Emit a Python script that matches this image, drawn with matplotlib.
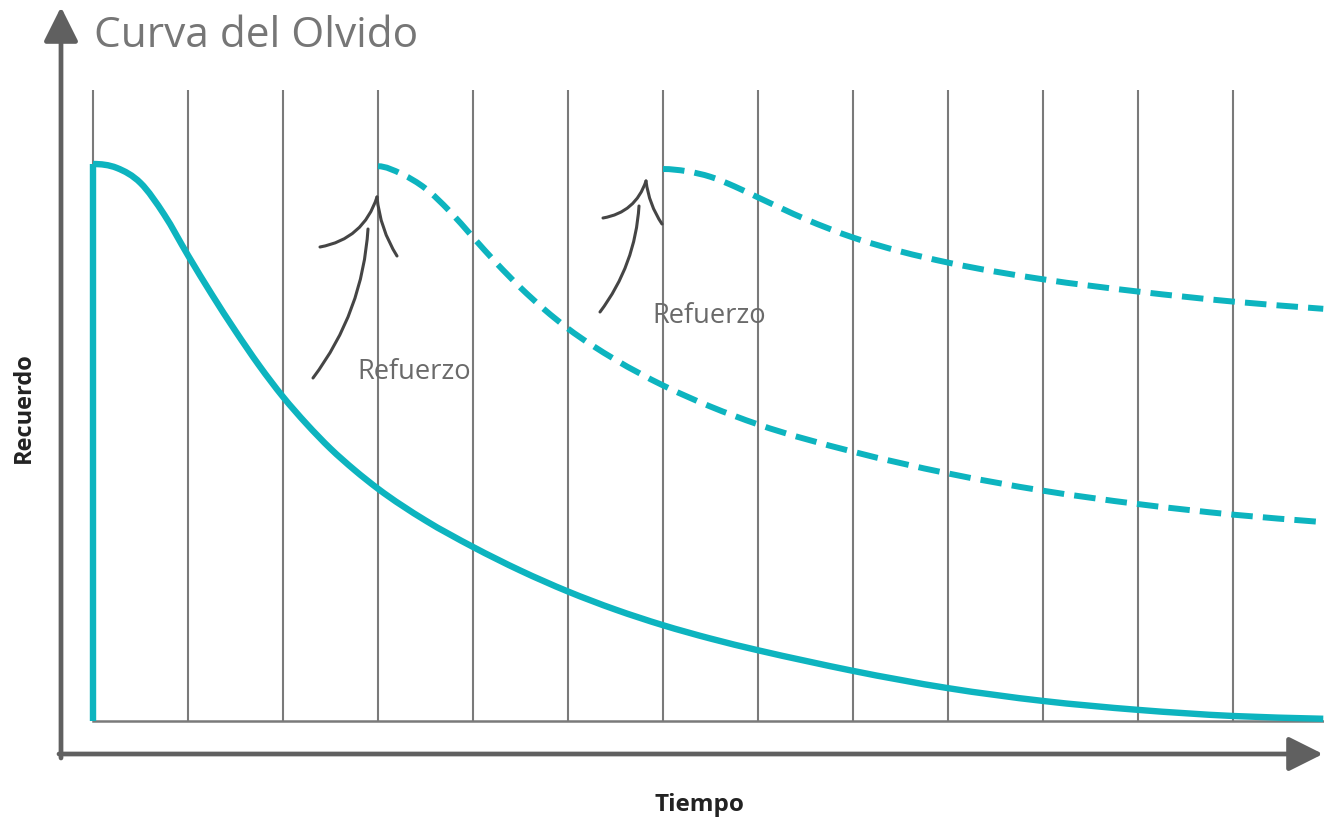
import matplotlib
matplotlib.use("Agg")
import matplotlib.pyplot as plt
from matplotlib.path import Path
from matplotlib.patches import PathPatch

# ---------------- data ----------------
title = "Curva del Olvido"
x_label = "Tiempo"
y_label = "Recuerdo"
boost_label = "Refuerzo"

grid_times = list(range(13))

time_forget = [0, 0, 0.25, 0.5, 0.75, 1, 1.25, 1.5, 1.75, 2, 2.25, 2.5, 2.75, 3, 3.5,
               4, 4.5, 5, 5.5, 6, 6.5, 7, 7.5, 8, 9, 10, 11, 12, 12.95]
recall_forget = [0, 100, 99.3, 96.6, 90.9, 83.6, 76.6, 70.0, 63.8, 58.2, 53.3, 48.9,
                 45.1, 41.7, 36.0, 31.25, 27.0, 23.25, 20.0, 17.2, 14.8, 12.7, 10.8,
                 9.0, 5.9, 3.6, 2.0, 0.9, 0.4]

time_review1 = [3, 3.25, 3.5, 3.75, 4, 4.25, 4.5, 4.75, 5, 5.5, 6, 6.5, 7, 8, 9,
                10, 11, 12, 12.95]
recall_review1 = [99.6, 98.2, 95.6, 91.6, 86.85, 82.15, 77.8, 73.9, 70.45, 64.85,
                  60.25, 56.45, 53.25, 48.35, 44.45, 41.35, 38.95, 37.05, 35.7]

time_review2 = [6, 6.25, 6.5, 6.75, 7, 7.5, 8, 8.5, 9, 10, 11, 12, 12.95]
recall_review2 = [99.1, 98.7, 97.7, 96.0, 94.0, 90.1, 86.8, 84.3, 82.3, 79.3, 77.1,
                  75.3, 74.0]

# ---------------- layout / style ----------------
W, H = 1324, 820
TEAL = "#0DB4BF"
GRID = "#7a7a7a"
AXIS = "#606060"
TXT = "#767676"

fig = plt.figure(figsize=(W / 100, H / 100), dpi=100)
ax = fig.add_axes([0, 0, 1, 1])
ax.set_axis_off()

# map: x_px = 93 + 95*t ; y_px = 722 - 5.57*R
ax.set_xlim((0 - 93) / 95, (W - 93) / 95)
ax.set_ylim((722 - H) / 5.57, 722 / 5.57)


def smooth_path(xs, ys):
    """Cubic Hermite (Bezier) path passing through every data point."""
    n = len(xs)
    h = [xs[i + 1] - xs[i] for i in range(n - 1)]
    d = [(ys[i + 1] - ys[i]) / h[i] for i in range(n - 1)]
    m = [0.0] * n
    for i in range(1, n - 1):
        if d[i - 1] * d[i] <= 0:
            m[i] = 0.0
        else:
            m[i] = (h[i] * d[i - 1] + h[i - 1] * d[i]) / (h[i - 1] + h[i])
    m[0] = 0.0            # rounded peak at the start
    m[-1] = d[-1]
    verts = [(xs[0], ys[0])]
    codes = [Path.MOVETO]
    for i in range(n - 1):
        verts += [(xs[i] + h[i] / 3, ys[i] + m[i] * h[i] / 3),
                  (xs[i + 1] - h[i] / 3, ys[i + 1] - m[i + 1] * h[i] / 3),
                  (xs[i + 1], ys[i + 1])]
        codes += [Path.CURVE4] * 3
    return Path(verts, codes)


grid_top = (722 - 91) / 5.57
for t in grid_times:
    ax.plot([t, t], [0, grid_top], color=GRID, lw=1.5, zorder=1, solid_capstyle="butt")
ax.plot([0, (W - 93) / 95], [0, 0], color=GRID, lw=1.8, zorder=1)

# forgetting curve: vertical rise + smooth decay
ax.plot(time_forget[:2], recall_forget[:2], color=TEAL, lw=4.6, zorder=3,
        solid_capstyle="butt")
ax.add_patch(PathPatch(smooth_path(time_forget[1:], recall_forget[1:]), fill=False,
                       edgecolor=TEAL, lw=4.6, zorder=3, joinstyle="round",
                       capstyle="butt"))
for tx, rx in [(time_review1, recall_review1), (time_review2, recall_review2)]:
    ax.add_patch(PathPatch(smooth_path(tx, rx), fill=False, edgecolor=TEAL, lw=4.3,
                           zorder=3, linestyle=(0, (3.6, 1.7)), capstyle="butt"))

# axis arrows (figure pixels, origin bottom-left)
arrow_kw = dict(arrowstyle="-|>,head_length=2.1,head_width=1.05", color=AXIS,
                lw=3.4, shrinkA=0, shrinkB=0, mutation_scale=10)
ax.annotate("", xy=(61, H - 8), xytext=(61, H - 759), xycoords="figure pixels",
            textcoords="figure pixels", arrowprops=arrow_kw)
ax.annotate("", xy=(1323, H - 755), xytext=(59, H - 755), xycoords="figure pixels",
            textcoords="figure pixels", arrowprops=arrow_kw)


# hand-drawn style "Refuerzo" arrows
def stroke(p0, p1, rad):
    ax.annotate("", xy=(p1[0], H - p1[1]), xytext=(p0[0], H - p0[1]),
                xycoords="figure pixels", textcoords="figure pixels",
                arrowprops=dict(arrowstyle="-", color="#454545", lw=2.2,
                                shrinkA=0, shrinkB=0, capstyle="round",
                                connectionstyle=f"arc3,rad={rad}"), zorder=4)


for (sx, sy), (ex, ey), (tx, ty), (lx, ly), (rx, ry) in [
    ((313, 379), (368, 230), (377, 198), (320, 248), (397, 257)),
    ((600, 313), (639, 207), (646, 182), (603, 219), (662, 225)),
]:
    stroke((sx, sy), (ex, ey), 0.15)
    stroke((lx, ly), (tx, ty), 0.30)
    stroke((tx, ty), (rx, ry), 0.12)

for bx, by in [(357, 379), (652, 323)]:
    fig.text(bx / W, 1 - by / H, boost_label, fontsize=19.6, color="#6a6a6a",
             family="Open Sans", va="baseline", ha="left", zorder=5)

fig.text(94 / W, 1 - 47 / H, title, fontsize=30.5, color=TXT, family="Open Sans",
         va="baseline", ha="left")
fig.text(699 / W, 1 - 811 / H, x_label, fontsize=17.5, color="#222222",
         family="Open Sans", fontweight="bold", va="baseline", ha="center")
fig.text(24 / W, 1 - 408 / H, y_label, fontsize=17, color="#222222",
         family="Open Sans", fontweight="bold", va="center", ha="center",
         rotation=90)

fig.savefig("out.png", dpi=100)
